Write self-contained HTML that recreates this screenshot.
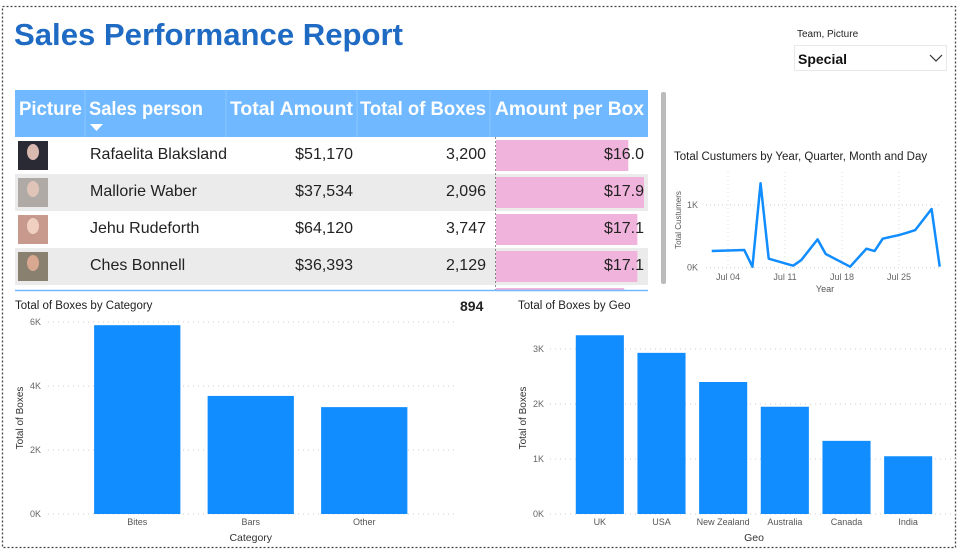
<!DOCTYPE html>
<html><head><meta charset="utf-8"><style>
body{margin:0;width:958px;height:553px;background:#fff;font-family:"Liberation Sans",sans-serif;overflow:hidden}
svg{position:absolute;left:0;top:0}
text{font-family:"Liberation Sans",sans-serif}
</style></head><body>
<svg id="s" width="958" height="553">
<rect x="2.5" y="6.5" width="953" height="541" fill="none" stroke="#444" stroke-width="1.3" stroke-dasharray="2,2"/>
<text x="14" y="45" font-size="31" font-weight="bold" fill="#1f6bc4" textLength="389" lengthAdjust="spacingAndGlyphs">Sales Performance Report</text>
<text x="797" y="37" font-size="10" fill="#222">Team, Picture</text>
<g>
<rect x="794.5" y="45.5" width="152" height="25" fill="#fff" stroke="#e8e8e8"/>
<text x="798" y="64" font-size="14" font-weight="bold" fill="#111">Special</text>
<polyline points="930,55 936,61 942,55" fill="none" stroke="#333" stroke-width="1.2"/>
</g>
<g id="table"></g>
<rect x="661" y="92" width="5" height="192" fill="#bbb" rx="2"/>
<line x1="15" y1="290.5" x2="648" y2="290.5" stroke="#70b8ff" stroke-width="1.5"/>
<text x="460" y="311" font-size="14" font-weight="bold" fill="#222">894</text>
<g id="line"></g>
<g id="cat"></g>
<g id="geo"></g>
</svg>
<script>
// table data
const people=["Rafaelita Blaksland","Mallorie Waber","Jehu Rudeforth","Ches Bonnell"];
const amounts=["$51,170","$37,534","$64,120","$36,393"];
const boxes=["3,200","2,096","3,747","2,129"];
const perBox=[16.0,17.9,17.1,17.1];
// line chart data (day of July, customers)
const lineDays=[2,6,7,8,9,12,13,15,16,19,21,22,23,25,26,27,29,30];
const lineVals=[266,282,16,1346,144,32,122,452,218,16,303,266,463,521,559,601,936,16];
const lineTicks=["Jul 04","Jul 11","Jul 18","Jul 25"];
const lineTickDays=[4,11,18,25];
// category chart
const categories=["Bites","Bars","Other"];
const catVals=[5900,3690,3340];
const catTicks=[0,2000,4000,6000];
// geo chart
const geos=["UK","USA","New Zealand","Australia","Canada","India"];
const geoVals=[3250,2930,2400,1950,1330,1050];
const geoTicks=[0,1000,2000,3000];

const NS="http://www.w3.org/2000/svg";
function el(parent,tag,attrs,txt){const e=document.createElementNS(NS,tag);for(const k in attrs)e.setAttribute(k,attrs[k]);if(txt!==undefined)e.textContent=txt;parent.appendChild(e);return e;}

// TABLE
const T=document.getElementById('table');
const cols=[15,85,226,357,490,648];
let h=el(T,'rect',{x:15,y:90,width:633,height:47,fill:'#70b8ff'});


const heads=["Picture","Sales person","Total Amount","Total of Boxes","Amount per Box"];
const headW=[63,114,123,126,149];
heads.forEach((t,i)=>{
  const right=i>=2;
  const tx=el(T,'text',{x:right?cols[i+1]-4:cols[i]+4,y:115,'font-size':19,'font-weight':'bold',fill:'#fff','text-anchor':right?'end':'start',textLength:headW[i],lengthAdjust:'spacingAndGlyphs'},t);
  
  
  if(i>0) el(T,'line',{x1:cols[i],y1:90,x2:cols[i],y2:137,stroke:'#8cc6ff'});
});
el(T,'polygon',{points:'90,124 103,124 96.5,131',fill:'#fff'});
const rowH=37, maxBox=17.9, barMax=148;
for(let r=0;r<5;r++){
  const y=137+r*rowH;
  const rr=el(T,'rect',{x:15,y:y,width:633,height:r<4?rowH:290-y,fill:r%2?'#ebebeb':'#fff'});
  
  
  const bv=r<4?perBox[r]:15.5;
  const bw=bv/maxBox*barMax;
  el(T,'rect',{x:496,y:y+3,width:bw,height:r<4?rowH-6:290-y-3,fill:'#f0b3dc'});
  if(r<4){
    el(T,'rect',{x:18,y:y+4,width:30,height:29,fill:['#2a2a35','#b0aaa6','#c89a8e','#8a8070'][r]});
    el(T,'ellipse',{cx:33,cy:y+15,rx:6,ry:8,fill:['#d9b8b0','#e0c4b8','#f0d0c0','#d8a890'][r]});
    el(T,'text',{x:90,y:y+22,'font-size':16,fill:'#222'},people[r]);
    el(T,'text',{x:353,y:y+22,'font-size':16,fill:'#222','text-anchor':'end'},amounts[r]);
    el(T,'text',{x:486,y:y+22,'font-size':16,fill:'#222','text-anchor':'end'},boxes[r]);
    el(T,'text',{x:644,y:y+22,'font-size':16,fill:'#222','text-anchor':'end'},'$'+perBox[r].toFixed(1));
  }
}
el(T,'line',{x1:495.5,y1:137,x2:495.5,y2:290,stroke:'#444','stroke-dasharray':'2,2','stroke-width':0.6});

// LINE CHART
const L=document.getElementById('line');
el(L,'text',{x:674,y:160,'font-size':11.5,fill:'#222'},'Total Custumers by Year, Quarter, Month and Day');
const lx=d=>728+(d-4)*57/7, ly=v=>267.7-v*0.0627;
[0,1000].forEach(v=>{el(L,'line',{x1:706,y1:ly(v),x2:942,y2:ly(v),stroke:'#ccc','stroke-dasharray':'1,3'});
 el(L,'text',{x:698,y:ly(v)+3,'font-size':9,fill:'#666','text-anchor':'end'},v/1000+'K');});
lineTickDays.forEach((d,i)=>{el(L,'line',{x1:lx(d),y1:172,x2:lx(d),y2:268,stroke:'#ddd','stroke-dasharray':'1,3'});
 el(L,'text',{x:lx(d),y:280,'font-size':9,fill:'#666','text-anchor':'middle'},lineTicks[i]);});
el(L,'text',{x:825,y:292,'font-size':9,fill:'#555','text-anchor':'middle'},'Year');
el(L,'text',{x:681,y:220,'font-size':8,fill:'#555','text-anchor':'middle',transform:'rotate(-90 681 220)'},'Total Custumers');
const ln=el(L,'polyline',{points:lineDays.map((d,i)=>lx(d)+','+ly(lineVals[i])).join(' '),fill:'none',stroke:'#118dff','stroke-width':2.5,'stroke-linejoin':'round'});



// BAR CHART helper
function bars(G,title,tx,cats,vals,ticks,x0,x1,y0,pxPer,barFrac,gx0,ytitleX,xtitle,ylabX){
  el(G,'text',{x:tx,y:309,'font-size':11.5,fill:'#222'},title);
  const y=v=>y0-v*pxPer;
  ticks.forEach(t=>{el(G,'line',{x1:gx0,y1:y(t),x2:x1+35,y2:y(t),stroke:'#ccc','stroke-dasharray':'1,4'});
    el(G,'text',{x:ylabX,y:y(t)+3,'font-size':9,fill:'#666','text-anchor':'end'},t/1000+'K');});
  const band=(x1-x0)/cats.length;
  cats.forEach((c,i)=>{
    const bw=band*barFrac, cx=x0+band*(i+0.5);
    const b=el(G,'rect',{x:cx-bw/2,y:y(vals[i]),width:bw,height:vals[i]*pxPer,fill:'#118dff'});
    
    
    el(G,'text',{x:cx,y:525,'font-size':9,fill:'#555','text-anchor':'middle'},c);
  });
  el(G,'text',{x:(x0+x1)/2,y:541,'font-size':10.5,fill:'#333','text-anchor':'middle'},xtitle);
  el(G,'text',{x:ytitleX,y:418,'font-size':10,fill:'#333','text-anchor':'middle',transform:'rotate(-90 '+ytitleX+' 418)'},'Total of Boxes');
}
bars(document.getElementById('cat'),'Total of Boxes by Category',15,categories,catVals,catTicks,80.5,421,514,0.032,0.76,48,23,'Category',41);
bars(document.getElementById('geo'),'Total of Boxes by Geo',518,geos,geoVals,geoTicks,569,939,514,0.055,0.78,550,526,'Geo',544);
</script>
</body></html>
